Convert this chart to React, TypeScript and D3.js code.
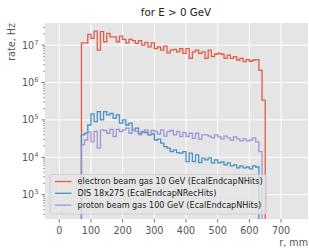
import React from 'react';
import * as d3 from 'd3';

// bin edges in r, mm
const binEdges = [70, 80, 90, 100, 110, 120, 130, 140, 150, 160, 170, 180, 190, 200, 210, 220, 230, 240, 250, 260,
  270, 280, 290, 300, 310, 320, 330, 340, 350, 360, 370, 380, 390, 400, 410, 420, 430, 440, 450, 460,
  470, 480, 490, 500, 510, 520, 530, 540, 550, 560, 570, 580, 590, 600, 610, 620, 630, 640, 650];

const electronRate = [1.15e7, 1.15e7, 1.93e7, 1.51e7, 2.37e7, 7.3e6, 2.28e7, 1.23e7, 2.05e7, 1.67e7,
  1.67e7, 1.23e7, 1.74e7, 1.42e7, 1.15e7, 1.42e7, 1.31e7, 1.11e7, 1.31e7, 1.0e7,
  1.18e7, 9.0e6, 1.15e7, 8.1e6, 9.0e6, 7.3e6, 9.4e6, 6.2e6, 7.3e6, 7.7e6,
  6.6e6, 8.1e6, 6.0e6, 8.1e6, 4.4e6, 6.6e6, 7.3e6, 6.0e6, 6.6e6, 4.4e6,
  7.3e6, 4.9e6, 5.7e6, 6.0e6, 5.7e6, 4.4e6, 5.4e6, 4.4e6, 4.9e6, 4.0e6,
  4.4e6, 3.6e6, 4.1e6, 3.7e6, 4.0e6, 4.1e6, 2.14e6, 3.4e5];

const disRate = [4.0e4, 4.4e4, 7.3e4, 1.45e5, 9.0e4, 1.67e5, 1.0e5, 1.67e5, 1.36e5, 1.5e5,
  1.1e5, 1.36e5, 8.2e4, 1.0e5, 7.3e4, 8.2e4, 5.4e4, 6.0e4, 4.4e4, 4.9e4,
  4.6e4, 4.0e4, 4.2e4, 2.9e4, 3.05e4, 2.4e4, 1.93e4, 1.75e4, 1.42e4, 1.58e4,
  1.34e4, 1.29e4, 1.42e4, 7.7e3, 1.29e4, 7.7e3, 1.16e4, 7.2e3, 9.5e3, 8.5e3,
  9.6e3, 7.1e3, 8.5e3, 7.1e3, 7.5e3, 6.3e3, 7.1e3, 5.9e3, 6.3e3, 5.2e3,
  5.9e3, 5.2e3, 5.5e3, 4.9e3, 5.9e3, 5.5e3, 0, 0];

const protonRate = [2.15e4, 2.9e4, 4.8e4, 2.6e4, 4.9e4, 1.75e4, 5.4e4, 5.2e4, 4.4e4, 5.6e4,
  3.6e4, 5.6e4, 4.9e4, 5.4e4, 6.0e4, 4.4e4, 5.6e4, 4.9e4, 4.0e4, 4.6e4,
  5.4e4, 4.0e4, 5.2e4, 4.9e4, 4.2e4, 5.4e4, 3.7e4, 4.9e4, 5.2e4, 4.0e4,
  4.9e4, 3.6e4, 4.6e4, 3.6e4, 4.4e4, 3.2e4, 4.4e4, 3.05e4, 4.0e4, 4.0e4,
  3.7e4, 3.3e4, 4.0e4, 3.5e4, 3.1e4, 3.7e4, 3.3e4, 2.9e4, 3.5e4, 3.1e4,
  2.75e4, 3.1e4, 2.75e4, 2.9e4, 3.3e4, 2.6e4, 1.42e4, 0];

const seriesLabels = [
  'electron beam gas 10 GeV (EcalEndcapNHits)',
  'DIS 18x275 (EcalEndcapNRecHits)',
  'proton beam gas 100 GeV (EcalEndcapNHits)',
];
const seriesColors = ['#E24A33', '#348ABD', '#988ED5'];

const xTicks = [0, 100, 200, 300, 400, 500, 600, 700];
const yTickExp = [3, 4, 5, 6, 7];

const W = 309;
const H = 248;
const left = 45, right = 308, top = 23, bottom = 219;

const x = d3.scaleLinear().domain([-45, 785]).range([left, right]);
const y = d3.scaleLog().domain([224, 3.9e7]).range([bottom, top]);

const stepPath = (vals: number[]) => {
  const floor = 1;
  const pts: [number, number][] = [[binEdges[0], floor]];
  vals.forEach((v, i) => {
    const vv = v > 0 ? v : floor;
    pts.push([binEdges[i], vv]);
    pts.push([binEdges[i + 1], vv]);
  });
  pts.push([binEdges[binEdges.length - 1], floor]);
  return d3.line<[number, number]>()
    .x(d => x(d[0]))
    .y(d => Math.min(y(d[1]), bottom + 5))(pts) as string;
};

const App = () => {
  const series = [electronRate, disRate, protonRate];
  const minorTicks = y.ticks().filter(t => {
    const l = Math.log10(t);
    return Math.abs(l - Math.round(l)) > 1e-6;
  });
  const font = 'DejaVu Sans, sans-serif';

  return (
    <svg width={W} height={H} style={{ position: 'absolute', left: 0, top: 0 }} fontFamily={font}>
      <rect x={0} y={0} width={W} height={H} fill="#fff" />
      <defs>
        <clipPath id="plot">
          <rect x={left} y={top} width={right - left} height={bottom - top} />
        </clipPath>
      </defs>
      <rect x={left} y={top} width={right - left} height={bottom - top} fill="#E5E5E5" />
      {xTicks.map(t => (
        <line key={'gx' + t} x1={x(t)} x2={x(t)} y1={top} y2={bottom} stroke="#fff" strokeWidth={1} />
      ))}
      {yTickExp.map(e => (
        <line key={'gy' + e} x1={left} x2={right} y1={y(Math.pow(10, e))} y2={y(Math.pow(10, e))} stroke="#fff" strokeWidth={1} />
      ))}
      <g clipPath="url(#plot)">
        {series.map((s, i) => (
          <path key={i} d={stepPath(s)} fill="none" stroke={seriesColors[i]} strokeWidth={1.3} strokeOpacity={0.9} />
        ))}
      </g>
      {/* x axis */}
      {xTicks.map(t => (
        <g key={'tx' + t}>
          <line x1={x(t)} x2={x(t)} y1={bottom} y2={bottom + 3.5} stroke="#555" strokeWidth={0.8} />
          <text x={x(t)} y={233.5} fontSize={9.6} fill="#555" textAnchor="middle">{t}</text>
        </g>
      ))}
      {/* y axis */}
      {yTickExp.map(e => (
        <g key={'ty' + e}>
          <line x1={left - 3.5} x2={left} y1={y(Math.pow(10, e))} y2={y(Math.pow(10, e))} stroke="#555" strokeWidth={0.8} />
          <text x={38.5} y={y(Math.pow(10, e)) + 3.5} fontSize={9.6} fill="#555" textAnchor="end">
            10<tspan dy={-4} fontSize={6.7}>{e}</tspan>
          </text>
        </g>
      ))}
      {minorTicks.map((t, i) => (
        <line key={'my' + i} x1={left - 2} x2={left} y1={y(t)} y2={y(t)} stroke="#555" strokeWidth={0.6} />
      ))}
      <text x={176} y={15.5} fontSize={10.3} fill="#222" textAnchor="middle">for E &gt; 0 GeV</text>
      <text transform={`translate(15,${top}) rotate(-90)`} fontSize={9.6} fill="#555" textAnchor="end">rate, Hz</text>
      <text x={308} y={245.5} fontSize={9.6} fill="#555" textAnchor="end">r, mm</text>
      {/* legend */}
      <rect x={50} y={174.5} width={216.5} height={39.5} rx={2} fill="#E5E5E5" fillOpacity={0.8} stroke="#ccc" strokeWidth={0.8} />
      {seriesLabels.map((lab, i) => {
        const ly = 181.5 + i * 11.8;
        return (
          <g key={'lg' + i}>
            <line x1={55} x2={71.5} y1={ly} y2={ly} stroke={seriesColors[i]} strokeWidth={1.3} strokeOpacity={0.9} />
            <text x={77.5} y={ly + 2.9} fontSize={8.1} fill="#222">{lab}</text>
          </g>
        );
      })}
    </svg>
  );
};

export default App;
